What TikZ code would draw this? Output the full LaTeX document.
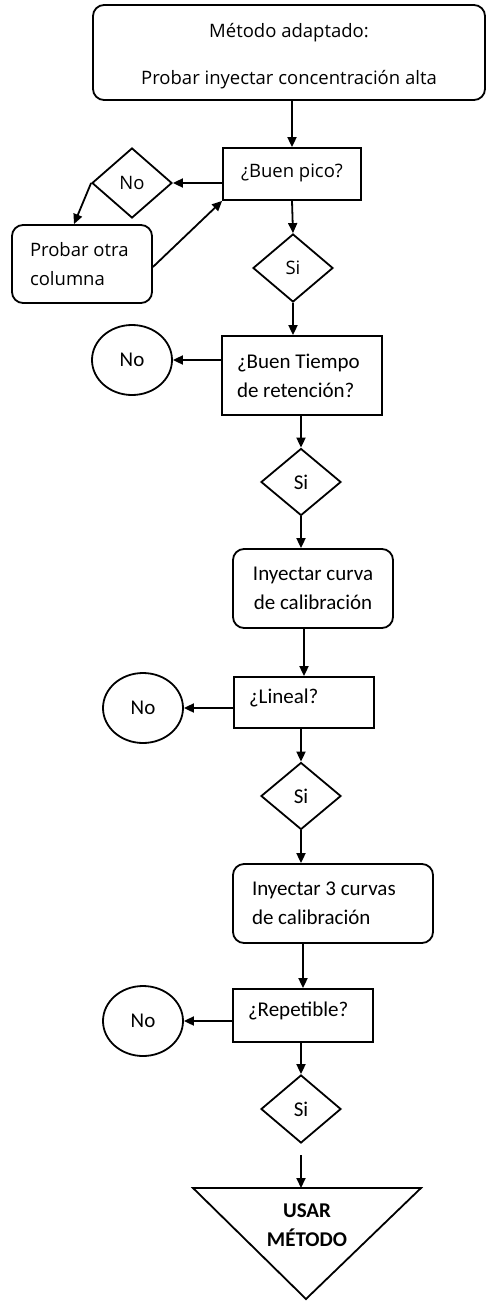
\documentclass[tikz,border=0pt]{standalone}
\usepackage{fontspec}
\setmainfont{Carlito}
\newfontfamily\osans{Open Sans}
\usetikzlibrary{shapes.geometric,arrows.meta}
\newcommand{\upby}[2]{\raisebox{#1}[\height][\depth]{#2}}
\begin{document}
\begin{tikzpicture}[x=1pt,y=-1pt,
  line width=1.8pt,
  txt/.style={font=\fontsize{21}{29}\selectfont},
  otxt/.style={font=\osans\fontsize{18.5}{29}\selectfont},
  rbox/.style={draw, rectangle, inner ysep=0pt},
  rrbox/.style={draw, rectangle, rounded corners=11pt, inner ysep=0pt},
  dia/.style={draw, diamond, inner sep=0pt, minimum width=80pt, minimum height=68pt},
  ell/.style={draw, ellipse, inner sep=0pt, minimum width=80pt, minimum height=70pt},
  arr/.style={-{Triangle[length=10pt,width=9pt]}, line width=1.8pt}
]
\useasboundingbox (0,0) rectangle (486,1301);

% top
\node[rrbox, otxt, minimum width=392pt, minimum height=95pt, align=center] (top) at (289,52.5)
  {\upby{-4pt}{Método adaptado:}\\[18pt]\upby{-4pt}{Probar inyectar concentración alta}};
\node[rbox, otxt, minimum width=138pt, minimum height=52pt] (pico) at (292,174) {\upby{1pt}{¿Buen pico?}};
\node[dia, otxt, minimum height=70pt] (no1) at (132,183) {No};
\node[rrbox, otxt, inner xsep=18pt, text width=104pt, minimum height=78pt, align=flush left] (otra) at (82,264) {Probar otra\\columna};
\node[dia, otxt] (si1) at (293,268) {Si};

\node[rbox, txt, inner xsep=15pt, text width=130pt, minimum height=79pt, align=flush left] (tiempo) at (302,375.5) {¿Buen Tiempo\\de retención?};
\node[ell, txt] (no2) at (132,360) {No};
\node[dia, txt, minimum height=67pt] (si2) at (301,482) {Si};
\node[rrbox, txt, minimum width=160pt, minimum height=79pt, align=center] (curva) at (313,588.5) {Inyectar curva\\de calibración};

\node[rbox, txt, inner xsep=15pt, text width=110pt, minimum height=51pt, align=flush left] (lineal) at (304,702.5) {\upby{5pt}{¿Lineal?}};
\node[ell, txt] (no3) at (143,708) {No};
\node[dia, txt, minimum height=67pt] (si3) at (301,796) {Si};
\node[rrbox, txt, inner xsep=19pt, text width=162pt, minimum height=79pt, align=flush left] (curvas3) at (333,903.5) {Inyectar 3 curvas\\de calibración};

\node[rbox, txt, inner xsep=15pt, text width=110pt, minimum height=53pt, align=flush left] (repet) at (303,1015.5) {\upby{5pt}{¿Repetible?}};
\node[ell, txt] (no4) at (143,1021) {No};
\node[dia, txt] (si4) at (301,1109) {Si};
\coordinate (gap) at (301,1155);

% triangle
\coordinate (tl) at (193,1188);
\coordinate (tr) at (421,1188);
\coordinate (tb) at (306,1299);
\coordinate (tritop) at (301,1188);
\draw[line join=miter] (tl) -- (tr) -- (tb) -- cycle;
\node[font=\bfseries\fontsize{21}{29}\selectfont, align=center] (usar) at (307,1225) {USAR\\MÉTODO};

% connectors
\draw[arr] ([xshift=3pt]top.south) -- (pico.north);
\draw[arr] (pico.west |- no1.east) -- (no1.east);
\draw[arr] (no1.west) -- ([xshift=-8pt]otra.north);
\draw[arr] ([yshift=-3pt]otra.east) -- (pico.south west);
\draw[arr] (pico.south) -- (si1.north);
\draw[arr] (si1.south) -- (si1.south |- tiempo.north);
\draw[arr] (tiempo.west |- no2.east) -- (no2.east);
\draw[arr] (si2.north |- tiempo.south) -- (si2.north);
\draw[arr] (si2.south) -- (si2.south |- curva.north);
\draw[arr] (lineal.north |- curva.south) -- (lineal.north);
\draw[arr] (lineal.west |- no3.east) -- (no3.east);
\draw[arr] (si3.north |- lineal.south) -- (si3.north);
\draw[arr] (si3.south) -- (si3.south |- curvas3.north);
\draw[arr] (repet.north |- curvas3.south) -- (repet.north);
\draw[arr] (repet.west |- no4.east) -- (no4.east);
\draw[arr] (si4.north |- repet.south) -- (si4.north);
\draw[arr] (gap) -- (tritop);
\end{tikzpicture}
\end{document}
